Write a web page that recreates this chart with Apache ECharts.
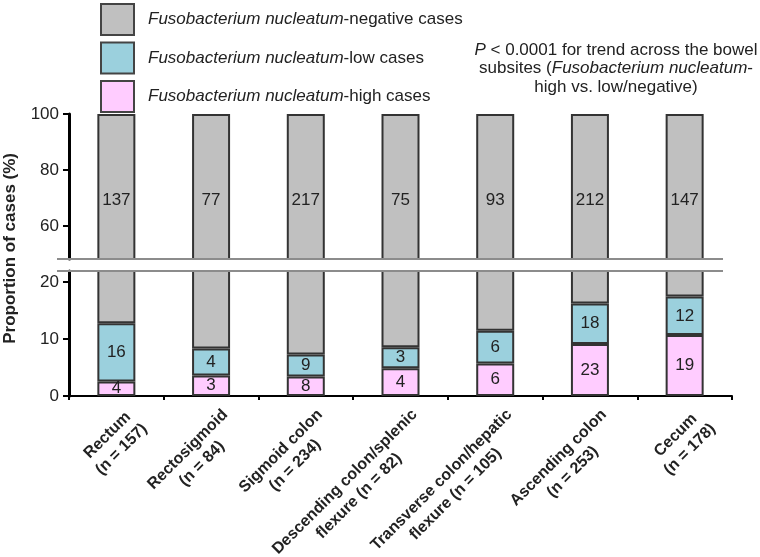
<!DOCTYPE html>
<html>
<head>
<meta charset="utf-8">
<script src="https://cdn.jsdelivr.net/npm/echarts@6/dist/echarts.min.js"></script>
<style>
  html, body { margin: 0; padding: 0; background: #fff; }
  #chart { width: 760px; height: 557px; }
</style>
</head>
<body>
<div id="chart"></div>
<script>
// bowel subsites (tick labels) and case counts per F. nucleatum group
const categories = [
  'Rectum\n(n = 157)',
  'Rectosigmoid\n(n = 84)',
  'Sigmoid colon\n(n = 234)',
  'Descending colon/splenic\nflexure (n = 82)',
  'Transverse colon/hepatic\nflexure (n = 105)',
  'Ascending colon\n(n = 253)',
  'Cecum\n(n = 178)'
];
const totals = [157, 84, 234, 82, 105, 253, 178];
const negCounts = [137, 77, 217, 75, 93, 212, 147];
const lowCounts = [16, 4, 9, 3, 6, 18, 12];
const highCounts = [4, 3, 8, 4, 6, 23, 19];
const upperTicks = [60, 80, 100];
const lowerTicks = [0, 10, 20];

const FONT = '"Liberation Sans", Arial, sans-serif';
const TXT = '#222';
const names = [
  'Fusobacterium nucleatum-negative cases',
  'Fusobacterium nucleatum-low cases',
  'Fusobacterium nucleatum-high cases'
];
const colors = ['#c0c0c0', '#9bd0dd', '#ffccff'];

const toPct = arr => arr.map((v, i) => v / totals[i] * 100);
const negPct = toPct(negCounts);
const lowPct = toPct(lowCounts);
const highPct = toPct(highCounts);

const barBase = {
  type: 'bar',
  barWidth: 38,
  itemStyle: { borderColor: '#333', borderWidth: 2 }
};

function makeSeries(grid) {
  const idx = grid === 'upper' ? 0 : 1;
  const countLabel = counts => ({
    show: true,
    position: 'inside',
    fontFamily: FONT,
    fontSize: 17,
    color: TXT,
    formatter: p => counts[p.dataIndex]
  });
  return [
    Object.assign({}, barBase, {
      name: names[2], stack: grid, xAxisIndex: idx, yAxisIndex: idx,
      data: highPct,
      itemStyle: Object.assign({}, barBase.itemStyle, { color: colors[2] }),
      label: grid === 'lower' ? countLabel(highCounts) : { show: false }
    }),
    Object.assign({}, barBase, {
      name: names[1], stack: grid, xAxisIndex: idx, yAxisIndex: idx,
      data: lowPct,
      itemStyle: Object.assign({}, barBase.itemStyle, { color: colors[1] }),
      label: grid === 'lower' ? countLabel(lowCounts) : { show: false }
    }),
    Object.assign({}, barBase, {
      name: names[0], stack: grid, xAxisIndex: idx, yAxisIndex: idx,
      data: negPct,
      itemStyle: Object.assign({}, barBase.itemStyle, { color: colors[0] }),
      label: grid === 'upper'
        ? Object.assign(countLabel(negCounts), { offset: [0, 13] })
        : { show: false }
    })
  ];
}

const yAxisBase = {
  type: 'value',
  splitLine: { show: false },
  axisLine: { show: true, lineStyle: { color: '#000', width: 3 } },
  axisTick: { show: true, length: 6, lineStyle: { color: '#000', width: 2 } },
  axisLabel: { fontFamily: FONT, fontSize: 17, color: TXT, margin: 10 }
};

const chart = echarts.init(document.getElementById('chart'));
chart.setOption({
  animation: false,
  backgroundColor: '#fff',
  legend: {
    data: names,
    orient: 'vertical',
    left: 100,
    top: 3,
    padding: 0,
    itemWidth: 33,
    itemHeight: 31,
    itemGap: 5.5,
    icon: 'rect',
    selectedMode: false,
    itemStyle: { borderColor: '#444', borderWidth: 2 },
    formatter: name => '{i|Fusobacterium nucleatum}{n|' + name.replace('Fusobacterium nucleatum', '') + '}',
    textStyle: {
      fontFamily: FONT,
      fontSize: 17,
      color: TXT,
      rich: {
        i: { fontFamily: FONT, fontSize: 17, fontStyle: 'italic', color: TXT, padding: [0, 0, 0, 9] },
        n: { fontFamily: FONT, fontSize: 17, color: TXT }
      }
    }
  },
  grid: [
    { left: 69, right: 28, top: 114, bottom: 298, outerBoundsMode: 'none' },
    { left: 69, right: 28, top: 271, bottom: 161, outerBoundsMode: 'none' }
  ],
  xAxis: [
    { type: 'category', gridIndex: 0, data: categories, show: false },
    {
      type: 'category', gridIndex: 1, data: categories,
      axisLine: { lineStyle: { color: '#000', width: 2 } },
      axisTick: { show: true, length: 4, lineStyle: { color: '#000', width: 2 } },
      axisLabel: {
        interval: 0,
        rotate: 45,
        margin: 2,
        verticalAlign: 'top',
        // blank first line pushes the rotated block off the axis
        formatter: v => '{s| }\n' + v.split('\n').map(s => '{c|' + s + '}').join('\n'),
        rich: {
          s: { fontSize: 1, lineHeight: 10 },
          c: { align: 'center', fontFamily: FONT, fontSize: 16, fontWeight: 'bold', color: TXT, lineHeight: 20 }
        }
      }
    }
  ],
  yAxis: [
    Object.assign({}, yAxisBase, {
      gridIndex: 0, min: 48.2, max: 100,
      axisTick: Object.assign({}, yAxisBase.axisTick, { customValues: upperTicks }),
      axisLabel: Object.assign({}, yAxisBase.axisLabel, { customValues: upperTicks })
    }),
    Object.assign({}, yAxisBase, {
      gridIndex: 1, min: 0, max: 21.9,
      axisTick: Object.assign({}, yAxisBase.axisTick, { customValues: lowerTicks }),
      axisLabel: Object.assign({}, yAxisBase.axisLabel, { customValues: lowerTicks })
    })
  ],
  series: makeSeries('upper').concat(makeSeries('lower')),
  graphic: [
    // axis break marks
    { type: 'line', z: 100, shape: { x1: 57, y1: 259, x2: 723, y2: 259 }, style: { stroke: '#8c8c8c', lineWidth: 2 } },
    { type: 'line', z: 100, shape: { x1: 57, y1: 271, x2: 723, y2: 271 }, style: { stroke: '#8c8c8c', lineWidth: 2 } },
    {
      type: 'text', left: 2, top: 153, rotation: Math.PI / 2,
      style: { text: 'Proportion of cases (%)', font: 'bold 17px ' + FONT, fill: TXT }
    },
    {
      type: 'text', x: 616, y: 41,
      style: {
        text: '{ip|P}{n| < 0.0001 for trend across the bowel}\n' +
              '{n|subsites (}{i|Fusobacterium nucleatum}{n|-}\n' +
              '{n|high vs. low/negative)}',
        align: 'center',
        verticalAlign: 'top',
        fill: TXT,
        font: '17px ' + FONT,
        rich: {
          ip: { fontStyle: 'italic', fontFamily: FONT, fontSize: 17, lineHeight: 18.5, fill: TXT },
          i: { fontStyle: 'italic', fontFamily: FONT, fontSize: 17, lineHeight: 18.5, fill: TXT },
          n: { fontFamily: FONT, fontSize: 17, lineHeight: 18.5, fill: TXT }
        }
      }
    }
  ]
});
</script>
</body>
</html>
